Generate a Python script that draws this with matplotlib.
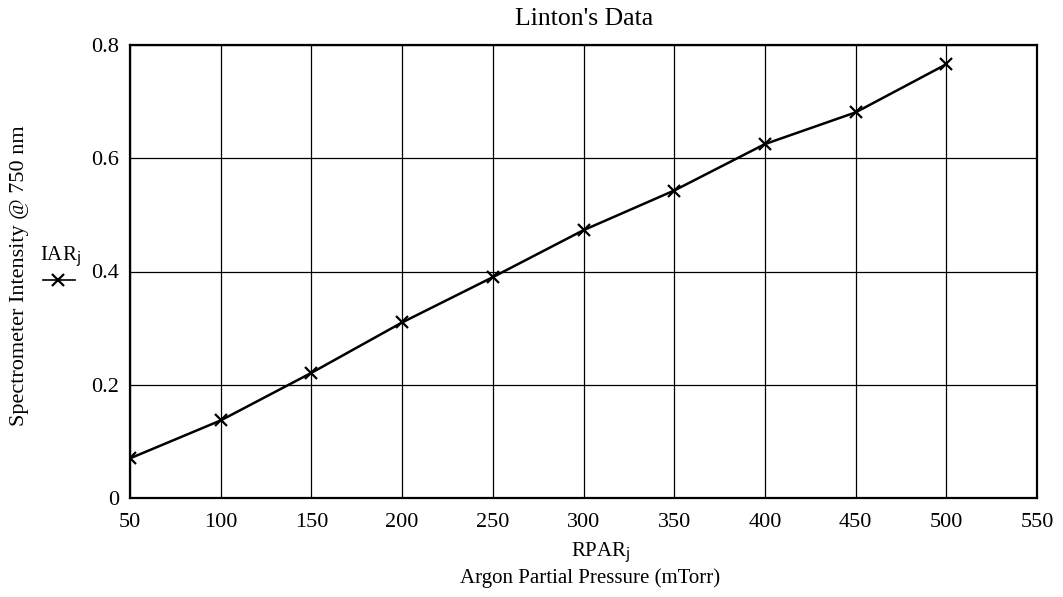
import matplotlib.pyplot as plt
from matplotlib.lines import Line2D

plt.rcParams['font.family'] = ['Liberation Serif', 'DejaVu Serif']

# Linton's data: argon partial pressure vs spectrometer intensity
rpar = [50, 100, 150, 200, 250, 300, 350, 400, 450, 500]
iar = [0.070, 0.137, 0.221, 0.310, 0.390, 0.473, 0.543, 0.625, 0.681, 0.766]
xticks = [50, 100, 150, 200, 250, 300, 350, 400, 450, 500, 550]
yticks = [0, 0.2, 0.4, 0.6, 0.8]

W, H = 1063, 597
fig = plt.figure(figsize=(W / 100, H / 100), dpi=100)
ax = fig.add_axes([130 / W, 1 - 498 / H, (1037 - 130) / W, (498 - 45) / H])

ax.plot(rpar, iar, color='black', lw=1.8, marker='x', ms=9, mew=1.6)

ax.set_xlim(50, 550)
ax.set_ylim(0, 0.8)
ax.set_xticks(xticks)
ax.set_yticks(yticks)
ax.set_xticklabels([str(t) for t in xticks], fontsize=16)
ax.set_yticklabels(['0', '0.2', '0.4', '0.6', '0.8'], fontsize=16)
ax.tick_params(axis='x', length=0, pad=11)
ax.tick_params(axis='y', length=0, pad=8)
ax.grid(True, color='black', lw=0.9)
for s in ax.spines.values():
    s.set_linewidth(1.6)

fig.text(584 / W, 1 - 19 / H, "Linton's Data", ha='center', va='center', fontsize=18.5)
fig.text(20 / W, 1 - 276 / H, 'Spectrometer Intensity @ 750 nm',
         rotation=90, ha='center', va='center', fontsize=16)

# legend-like label at left, mathcad style
fig.text(60 / W, 1 - 257 / H, r'IAR$_{\mathrm{j}}$', ha='center', va='center', fontsize=15)
fig.add_artist(Line2D([43 / W, 75 / W], [1 - 280 / H, 1 - 280 / H],
                      color='black', lw=1.2, transform=fig.transFigure))
fig.add_artist(Line2D([58 / W], [1 - 280 / H], color='black', marker='x',
                      ms=9, mew=1.6, transform=fig.transFigure))

fig.text(601 / W, 1 - 553 / H, r'RPAR$_{\mathrm{j}}$', ha='center', va='center', fontsize=15)
fig.text(590 / W, 1 - 578 / H, 'Argon Partial Pressure (mTorr)', ha='center', va='center', fontsize=15)

fig.savefig('out.png', dpi=100)
